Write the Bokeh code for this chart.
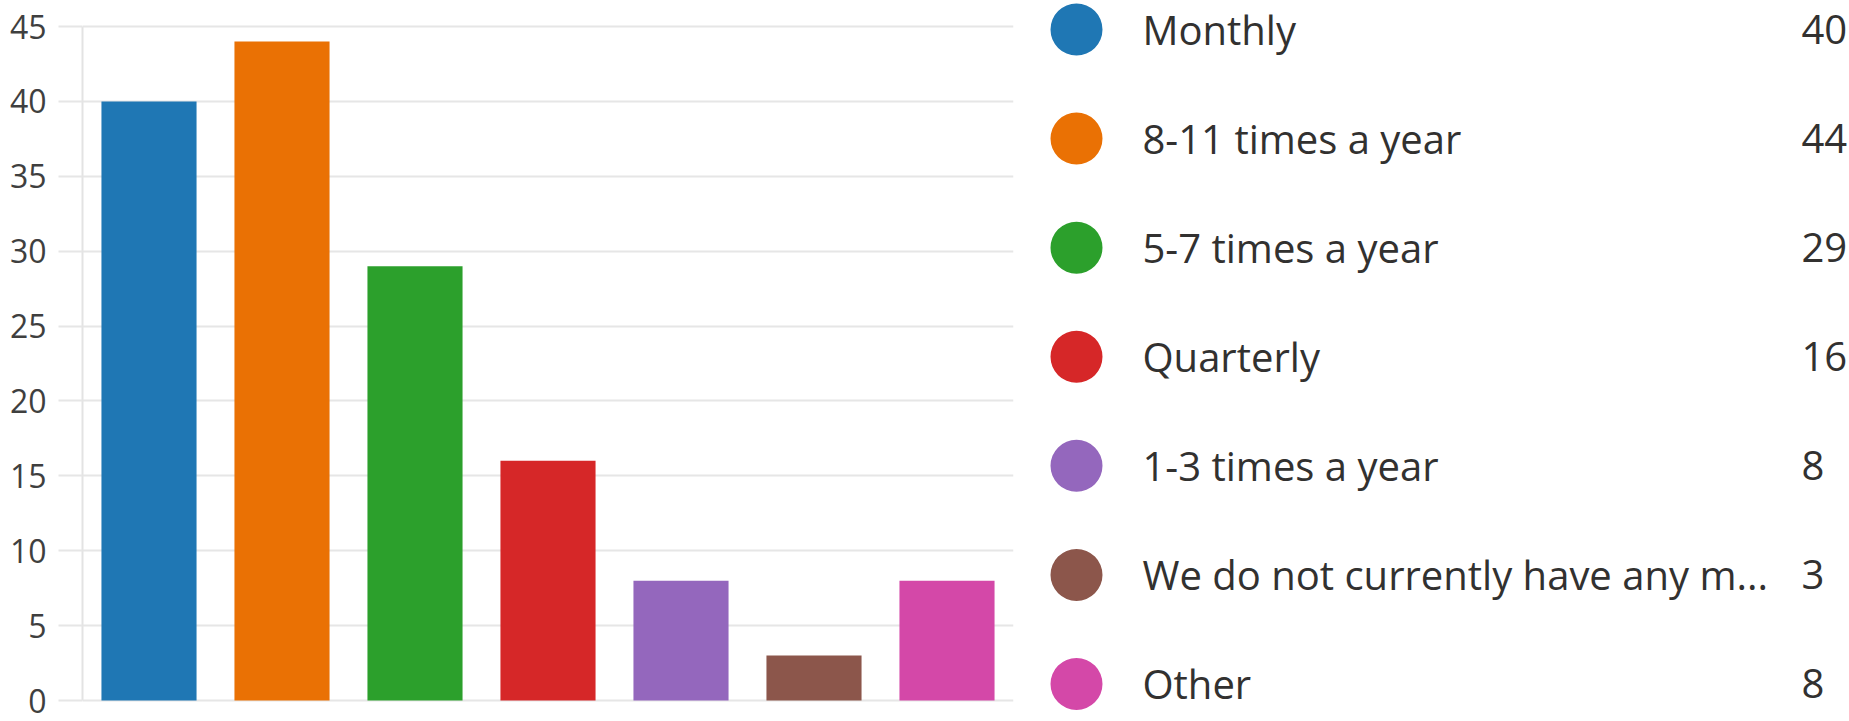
from bokeh.plotting import figure
from bokeh.models import ColumnDataSource, Range1d, FactorRange
from bokeh.layouts import row
from bokeh.core.properties import value
from bokeh.embed import file_html
from bokeh.resources import INLINE

categories = ["Monthly", "8-11 times a year", "5-7 times a year", "Quarterly",
              "1-3 times a year", "We do not currently have any m...", "Other"]
counts = [40, 44, 29, 16, 8, 3, 8]
colors = ["#1f77b4", "#ea7104", "#2ca02c", "#d62728", "#9467bd", "#8c564b", "#d448a8"]
y_ticks = [0, 5, 10, 15, 20, 25, 30, 35, 40, 45]

FONT = "Open Sans"
H = 721

src = ColumnDataSource(dict(cat=categories, count=counts, color=colors,
                            idx=list(range(len(categories))),
                            label=[str(c) for c in counts]))

# ---- bar chart ----
p1 = figure(width=1023, height=H, x_range=FactorRange(*categories, range_padding=0),
            y_range=Range1d(-1.402, 46.736), output_backend="svg", toolbar_location=None,
            x_axis_location=None,
            min_border_left=82, min_border_right=10, min_border_top=0, min_border_bottom=0)
p1.vbar(x="cat", top="count", width=0.715, fill_color="color", line_color=None, source=src)
p1.outline_line_color = None
p1.xgrid.visible = False
p1.ygrid.ticker = y_ticks
p1.ygrid.grid_line_color = "#e6e6e6"
p1.ygrid.grid_line_width = 2
p1.yaxis.ticker = y_ticks
p1.yaxis.bounds = (0, 45)
p1.yaxis.axis_line_color = "#e3e3e3"
p1.yaxis.axis_line_width = 2
p1.yaxis.major_tick_line_color = "#e6e6e6"
p1.yaxis.major_tick_line_width = 2
p1.yaxis.major_tick_out = 24
p1.yaxis.major_tick_in = 0
p1.yaxis.minor_tick_line_color = None
p1.yaxis.major_label_standoff = 12
p1.yaxis.major_label_text_font = FONT
p1.yaxis.major_label_text_font_size = "32px"
p1.yaxis.major_label_text_color = "#3f3f3f"

# ---- legend panel ----
p2 = figure(width=826, height=H, x_range=Range1d(0, 826), y_range=Range1d(6.344, -0.2659),
            output_backend="svg", toolbar_location=None,
            x_axis_location=None, y_axis_location=None,
            min_border_left=0, min_border_right=0, min_border_top=0, min_border_bottom=0)
p2.grid.visible = False
p2.outline_line_color = None
p2.scatter(x=53, y="idx", size=52, marker="circle", fill_color="color", line_color=None, source=src)
p2.text(x=119, y="idx", text="cat", text_font=value(FONT), text_font_size="40px",
        text_baseline="middle", text_align="left", text_color="#323130", source=src)
p2.text(x=778, y="idx", text="label", text_font=value(FONT), text_font_size="40px",
        text_baseline="middle", text_align="left", text_color="#323130", source=src)

layout = row(p1, p2)
open("out.html", "w").write(file_html(layout, INLINE))
